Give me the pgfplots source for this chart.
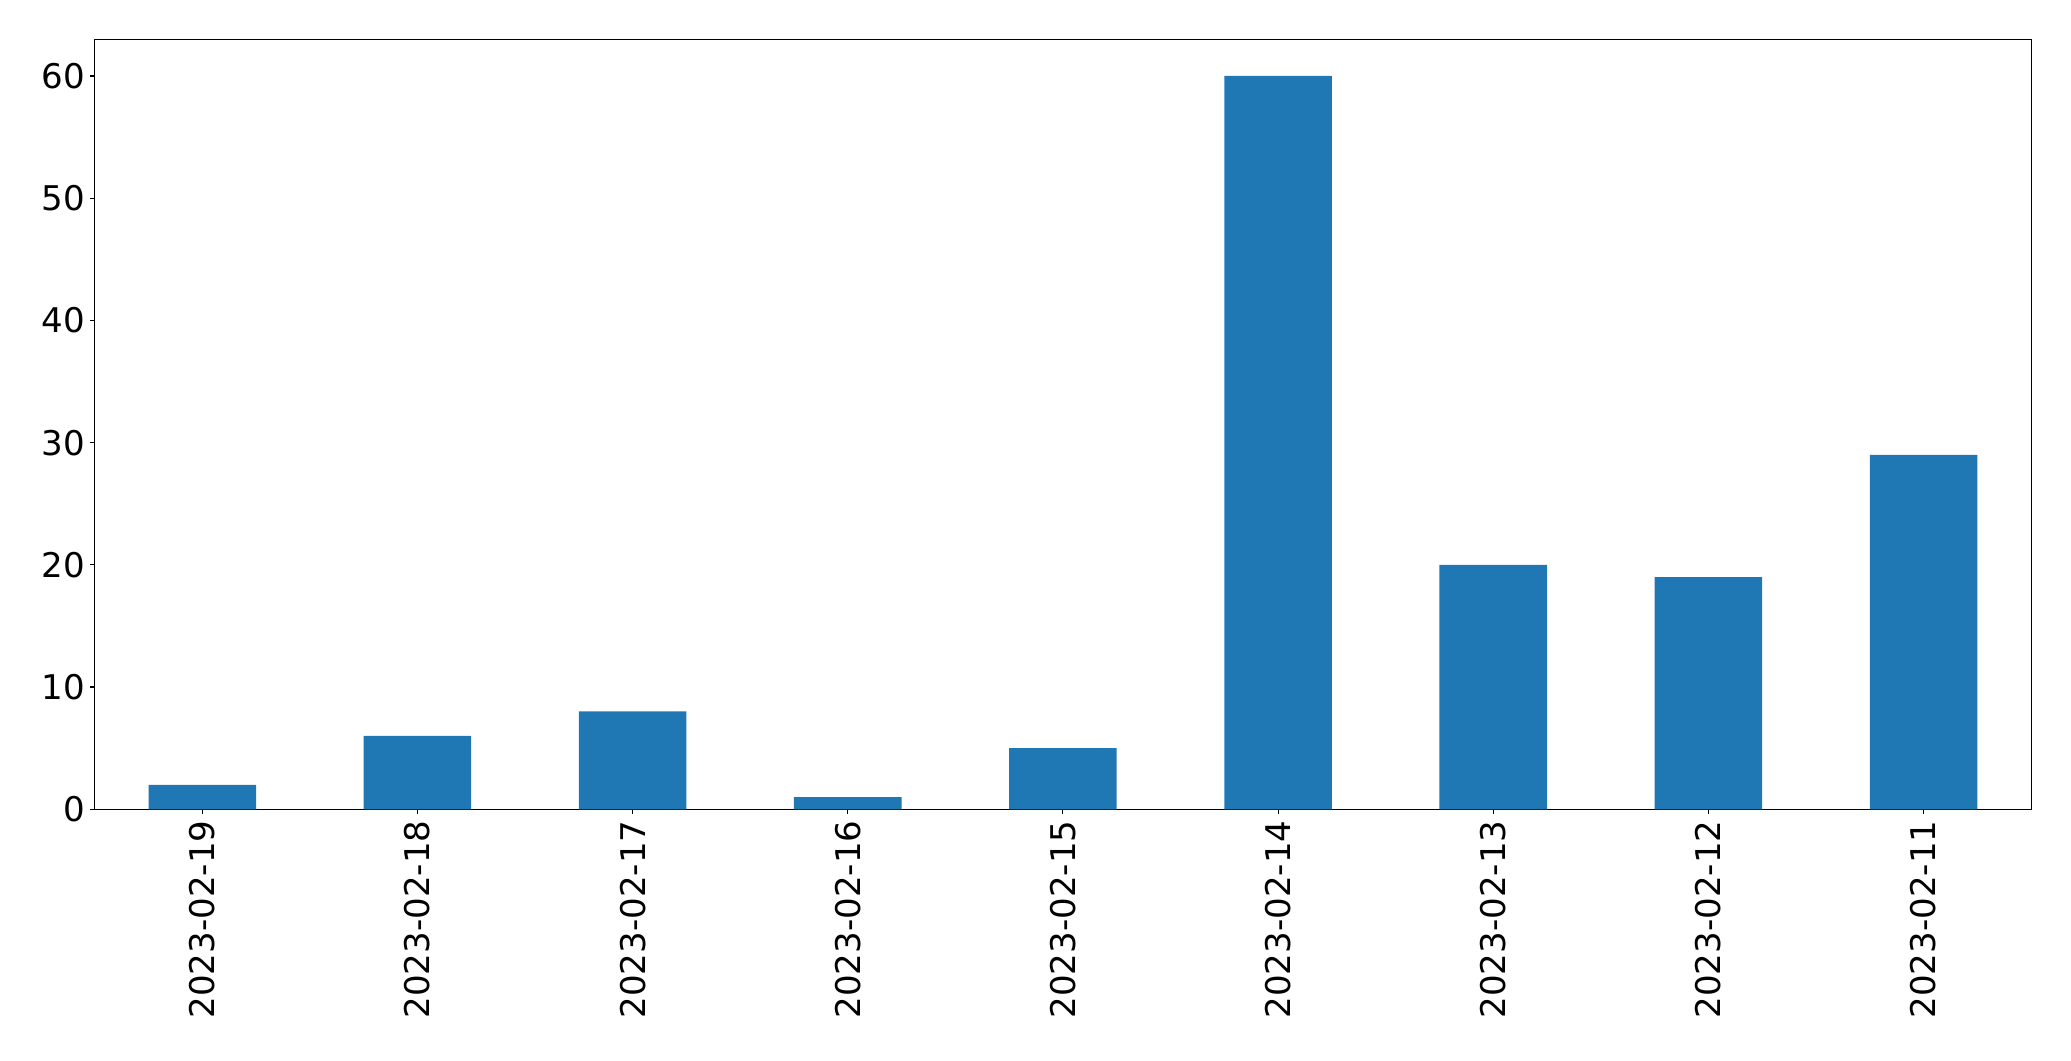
\documentclass[border=0pt]{standalone}
\usepackage{pgfplots}
\pgfplotsset{compat=1.18}
\usepackage{fontspec}
\setmainfont{DejaVu Sans}
\definecolor{mplblue}{HTML}{1F77B4}
\begin{document}
\begin{tikzpicture}
\useasboundingbox (-68.2pt,-181.2pt) rectangle (1423.0pt,582.7pt);
\begin{axis}[
  at={(0,0)}, anchor=south west,
  scale only axis,
  width=1394.4pt, height=554.4pt,
  xmin=-0.5, xmax=8.5, ymin=0, ymax=63,
  xtick={0,1,2,3,4,5,6,7,8},
  xticklabels={2023-02-19,2023-02-18,2023-02-17,2023-02-16,2023-02-15,2023-02-14,2023-02-13,2023-02-12,2023-02-11},
  ytick={0,10,20,30,40,50,60},
  tick pos=left,
  tick align=outside,
  major tick length=3.5pt,
  every tick/.style={black, line width=0.8pt},
  axis line style={line width=0.8pt},
  /pgf/number format/assume math mode=true,
  tick label style={font=\fontsize{24.5}{28}\selectfont},
  x tick label style={rotate=90, anchor=east, inner sep=0pt},
  xticklabel shift=4.5pt,
  y tick label style={anchor=east, inner sep=0pt},
  yticklabel shift=3.5pt,
]
\addplot[ybar, bar width=0.5, fill=mplblue, draw=none] coordinates {
(0,2) (1,6) (2,8) (3,1) (4,5) (5,60) (6,20) (7,19) (8,29)
};
\end{axis}
\end{tikzpicture}
\end{document}
